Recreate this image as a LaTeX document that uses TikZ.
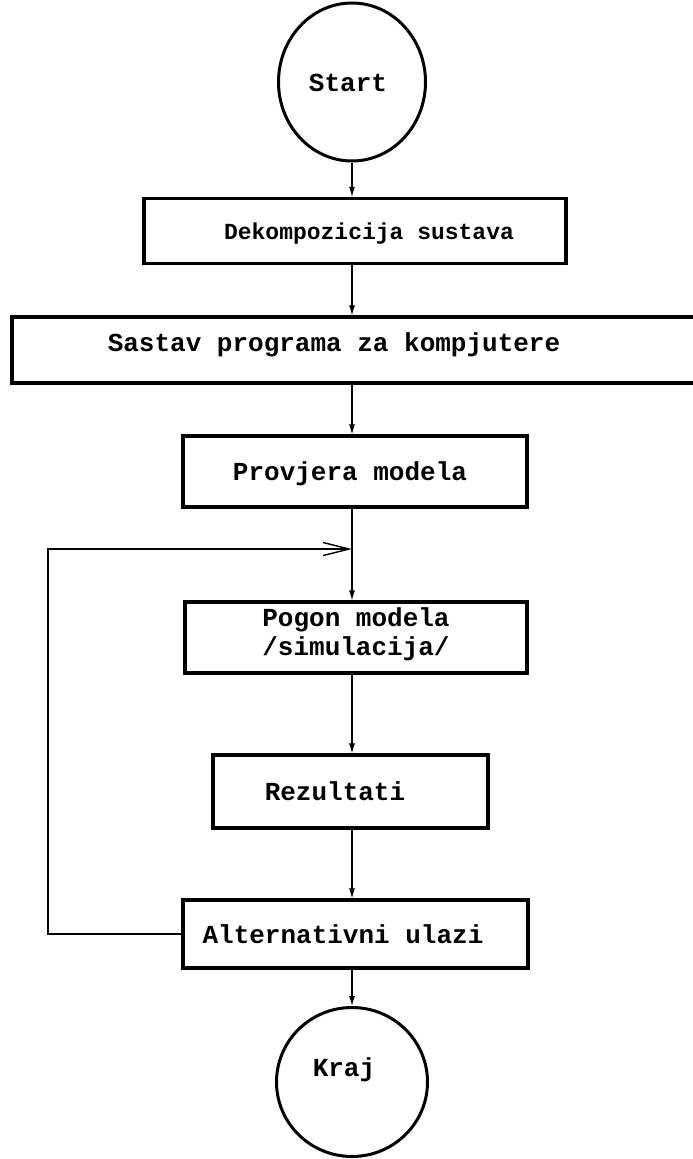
\documentclass[tikz,border=0pt]{standalone}
\usepackage{fontspec}
\newfontfamily\tw{Liberation Mono}
\usetikzlibrary{arrows.meta,shapes.geometric}
\begin{document}
\begin{tikzpicture}[x=1pt,y=-1pt,
  txt/.style={font=\tw\bfseries\fontsize{26}{29}\selectfont, text height=18pt, text depth=0pt},
  box/.style={txt, draw, line width=3.2pt, rectangle, inner sep=0pt},
  term/.style={txt, draw, line width=3pt, ellipse, inner sep=0pt},
  conn/.style={line width=1.1pt, -{Latex[length=10pt,width=6pt]}},
  back/.style={line width=1.1pt, -{Straight Barb[length=26pt,width=13pt,line width=1.4pt]}}
]
\clip (0,0) rectangle (693,1159);
\fill[white] (0,0) rectangle (693,1159);
\coordinate (ax) at (352,0);
\coordinate (lx) at (48,0);
\coordinate (jn) at (352,549);

\node[term, minimum width=147pt, minimum height=158pt] (start) at (352,82) {\hspace*{-8pt}Start};
\node[box, minimum width=422pt, minimum height=65pt, font=\tw\bfseries\fontsize{23}{26}\selectfont, text height=16pt] (dek) at (355,231) {\hspace*{28pt}Dekompozicija sustava};
\node[box, minimum width=692pt, minimum height=66pt, text depth=16pt] (sastav) at (358,350) {\hspace*{-48pt}Sastav programa za kompjutere};
\node[box, minimum width=344pt, minimum height=71pt] (prov) at (355,471.5) {\hspace*{-10pt}Provjera modela};
\node[box, minimum width=342pt, minimum height=71pt, text depth=40pt] (pogon) at (356,637.5) {\begin{tabular}[t]{@{}c@{}}Pogon modela\\/simulacija/\end{tabular}};
\node[box, minimum width=275pt, minimum height=73pt] (rez) at (350.5,791.5) {\hspace*{-31pt}Rezultati};
\node[box, minimum width=345pt, minimum height=68pt] (alt) at (355.5,934) {\hspace*{-25pt}Alternativni ulazi};
\node[term, minimum width=151pt, minimum height=149pt, text depth=30pt] (kraj) at (352,1082) {\hspace*{-16pt}Kraj};

\draw[conn] (ax |- start.south) -- (ax |- dek.north);
\draw[conn] (ax |- dek.south) -- (ax |- sastav.north);
\draw[conn] (ax |- sastav.south) -- (ax |- prov.north);
\draw[conn] (ax |- prov.south) -- (jn) -- (ax |- pogon.north);
\draw[conn] (ax |- pogon.south) -- (ax |- rez.north);
\draw[conn] (ax |- rez.south) -- (ax |- alt.north);
\draw[conn] (ax |- alt.south) -- (ax |- kraj.north);
\draw[back] (alt.west) -- (alt.west -| lx) -- (lx |- jn) -- (jn);
\end{tikzpicture}
\end{document}
